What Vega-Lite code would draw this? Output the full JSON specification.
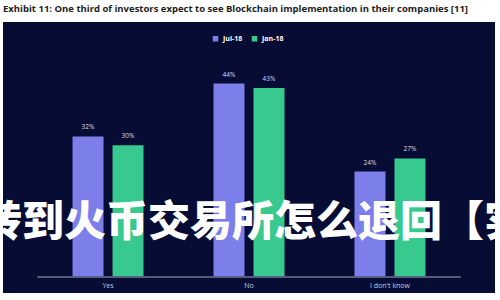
{
  "$schema": "https://vega.github.io/schema/vega-lite/v6.json",
  "width": 500,
  "height": 300,
  "autosize": {"type": "fit", "contains": "padding"},
  "padding": {"left": 3, "right": 5, "top": 3, "bottom": 7},
  "background": "#ffffff",
  "title": {
    "text": "Exhibit 11: One third of investors expect to see Blockchain implementation in their companies [11]",
    "anchor": "start",
    "font": "Open Sans",
    "fontSize": 9.5,
    "fontWeight": "bold",
    "color": "#222222",
    "offset": 9,
    "frame": "group"
  },
  "config": {
    "view": {"fill": "#070c35", "stroke": null},
    "font": "Open Sans"
  },
  "data": {
    "values": [
      {"answer": "Yes", "period": "Jul-18", "pct": 32, "label": "32%"},
      {"answer": "Yes", "period": "Jan-18", "pct": 30, "label": "30%"},
      {"answer": "No", "period": "Jul-18", "pct": 44, "label": "44%"},
      {"answer": "No", "period": "Jan-18", "pct": 43, "label": "43%"},
      {"answer": "I don't know", "period": "Jul-18", "pct": 24, "label": "24%"},
      {"answer": "I don't know", "period": "Jan-18", "pct": 27, "label": "27%"}
    ]
  },
  "encoding": {
    "x": {
      "field": "answer",
      "type": "nominal",
      "sort": ["Yes", "No", "I don't know"],
      "scale": {"paddingInner": 0, "paddingOuter": 0.245},
      "axis": {
        "title": null,
        "domain": false,
        "ticks": false,
        "labelAngle": 0,
        "labelColor": "#c8cad6",
        "labelFontSize": 7,
        "labelPadding": 4,
        "offset": -16
      }
    },
    "y": {
      "type": "quantitative",
      "scale": {"domain": [-3.6, 58], "nice": false, "zero": false},
      "axis": null
    }
  },
  "layer": [
    {
      "mark": {"type": "bar"},
      "encoding": {
        "y": {"field": "pct", "type": "quantitative"},
        "y2": {"datum": 0},
        "xOffset": {
          "field": "period",
          "type": "nominal",
          "sort": ["Jul-18", "Jan-18"],
          "scale": {"paddingInner": 0.225, "paddingOuter": 0.875}
        },
        "color": {
          "field": "period",
          "type": "nominal",
          "sort": ["Jul-18", "Jan-18"],
          "scale": {"domain": ["Jul-18", "Jan-18"], "range": ["#7c7ee9", "#37c98e"]},
          "legend": {
            "title": null,
            "orient": "none",
            "direction": "horizontal",
            "legendX": 209,
            "legendY": 13,
            "symbolType": "square",
            "symbolSize": 30,
            "labelColor": "#ffffff",
            "labelFontSize": 7,
            "labelFontWeight": "bold",
            "columnPadding": 8,
            "symbolStrokeWidth": 0
          }
        }
      }
    },
    {
      "mark": {"type": "text", "color": "#d8d9e3", "fontSize": 6.5, "dy": -6, "baseline": "bottom"},
      "encoding": {
        "y": {"field": "pct", "type": "quantitative"},
        "xOffset": {
          "field": "period",
          "type": "nominal",
          "sort": ["Jul-18", "Jan-18"],
          "scale": {"paddingInner": 0.225, "paddingOuter": 0.875}
        },
        "text": {"field": "label"}
      }
    },
    {
      "mark": {"type": "rule", "color": "#5a5f80", "strokeWidth": 1},
      "encoding": {
        "x": {"datum": "Yes", "bandPosition": 0},
        "x2": {"datum": "I don't know", "bandPosition": 1},
        "y": {"datum": 0}
      }
    },
    {
      "data": {"values": [{"answer": "No", "pos": 12.4, "overlay": "转到火币交易所怎么退回【实"}]},
      "mark": {"type": "text", "clip": true, "color": "#ffffff", "fontSize": 42, "font": "Noto Sans CJK SC", "fontWeight": 900, "align": "center", "baseline": "middle", "dx": 4},
      "encoding": {
        "x": {"field": "answer", "type": "nominal"},
        "y": {"field": "pos", "type": "quantitative"},
        "text": {"field": "overlay"}
      }
    }
  ]
}
